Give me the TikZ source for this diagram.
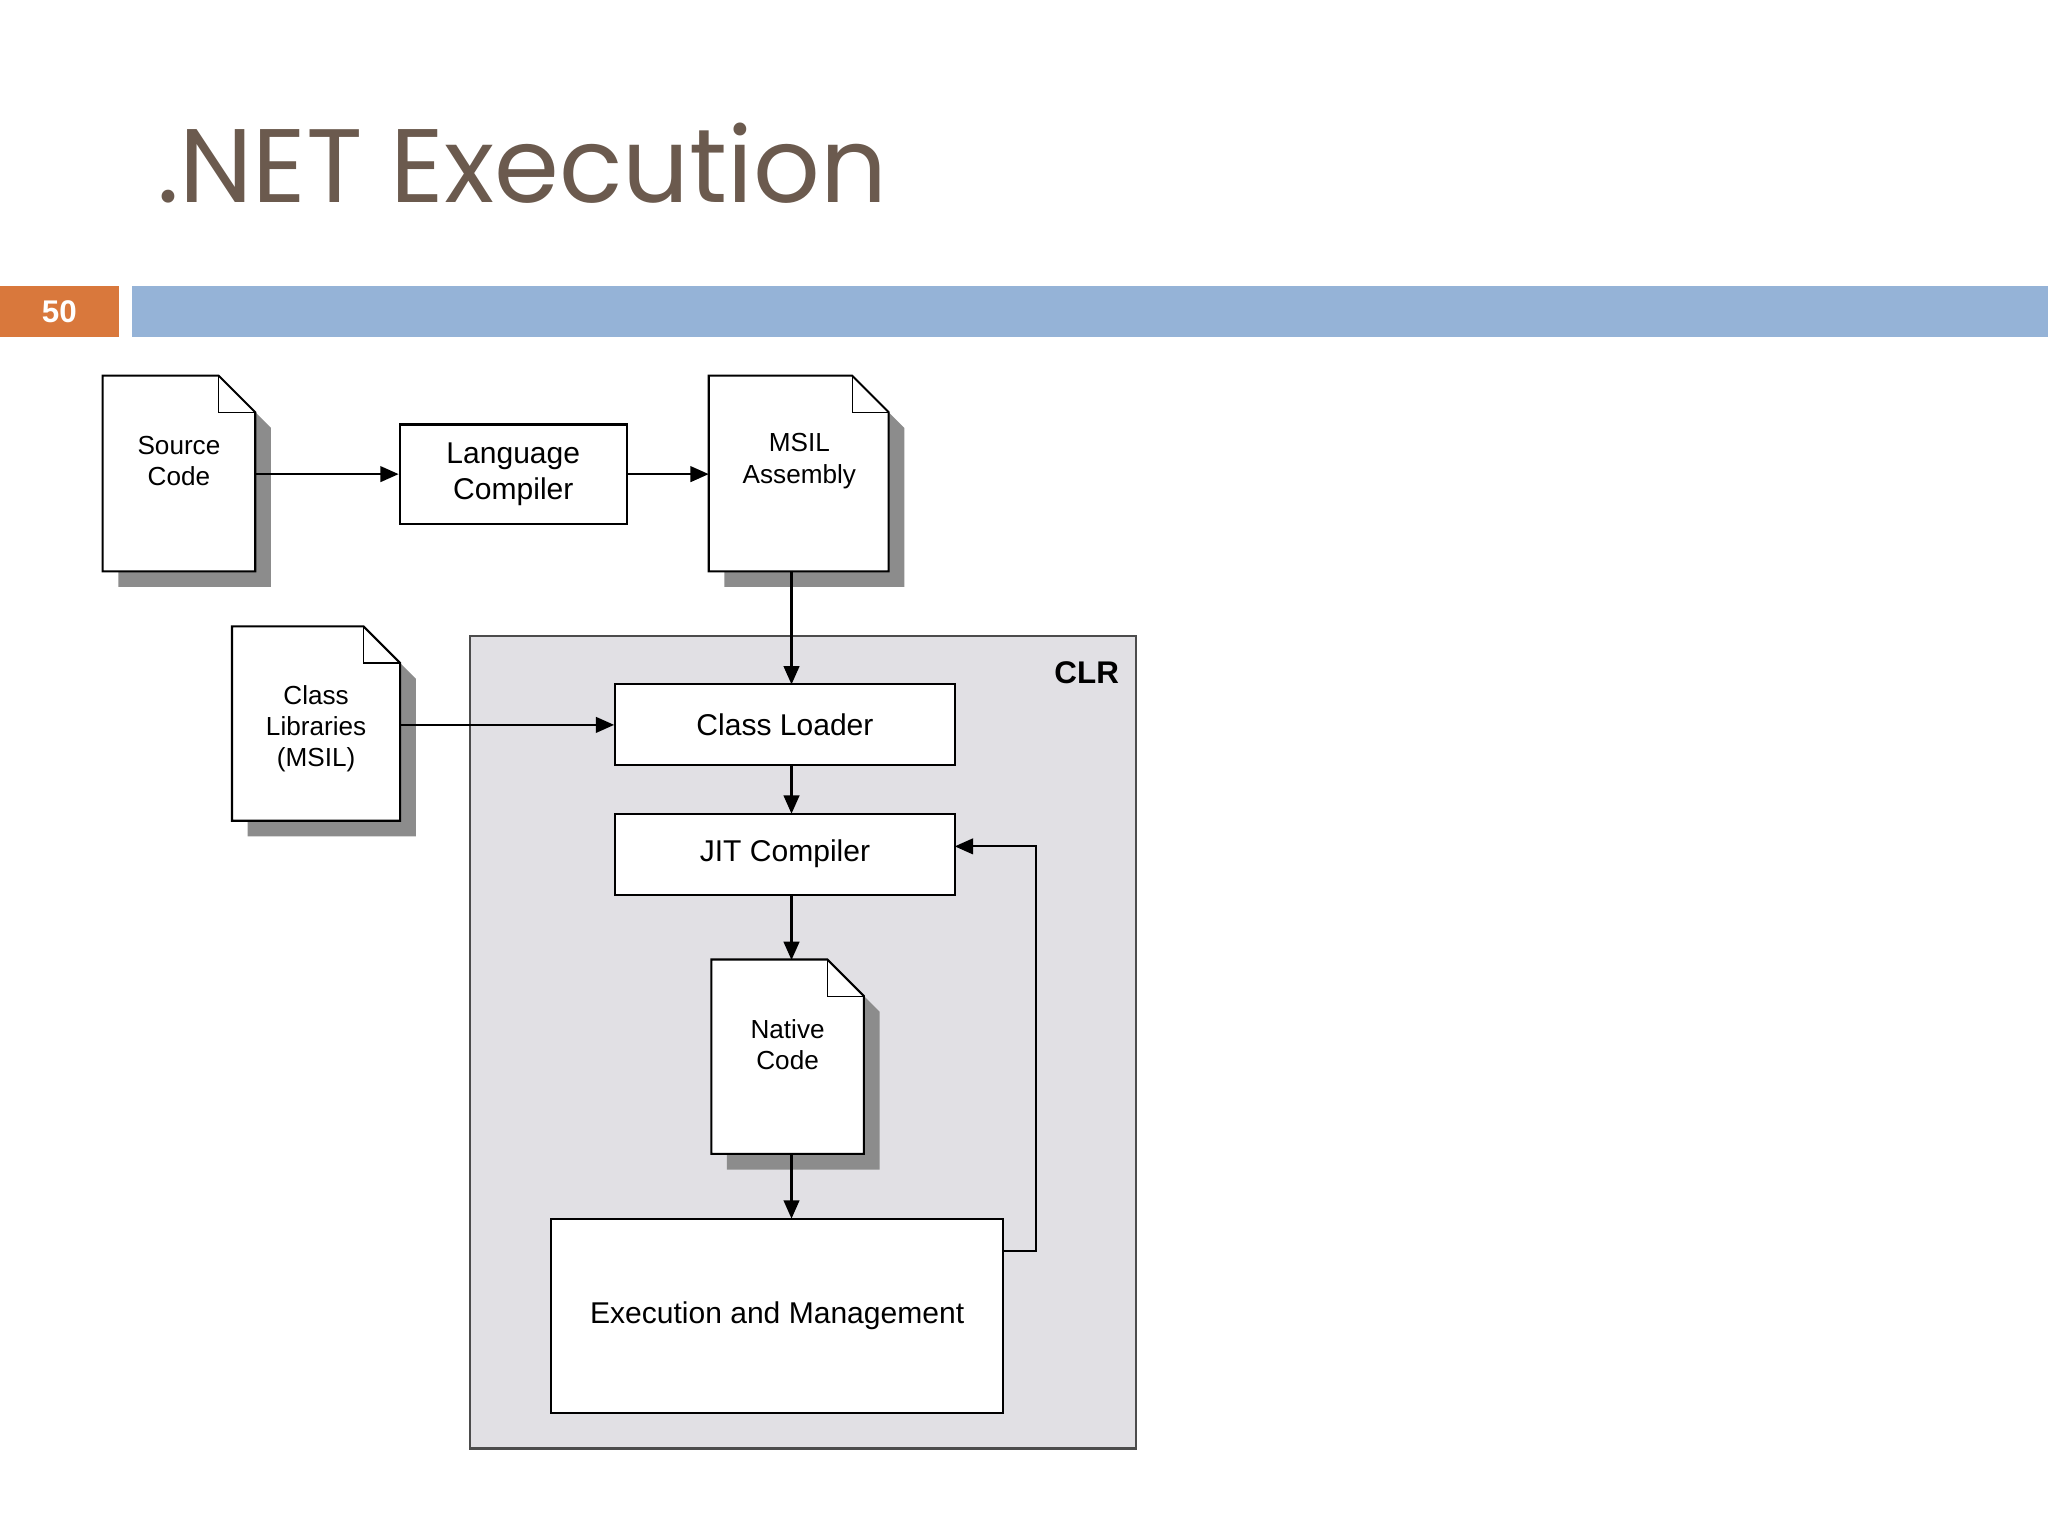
\documentclass[tikz,border=0pt]{standalone}
\usepackage{fontspec}
\setmainfont{Liberation Sans}
\newfontfamily\titlefont{Poppins}
\usetikzlibrary{calc,arrows.meta}
\definecolor{titlebrown}{HTML}{6B5A4E}
\definecolor{slideorange}{HTML}{D9783C}
\definecolor{slideblue}{HTML}{95B3D7}
\definecolor{clrgray}{HTML}{E1E0E4}
\definecolor{shadowgray}{HTML}{8C8C8C}
\tikzset{
  box/.style={draw,thick,fill=white,inner sep=0,font=\fontsize{11.5}{14}\selectfont,align=center},
  arr/.style={-{Triangle[length=7pt,width=6pt]},thick},
  doctext/.style={font=\fontsize{10}{12}\selectfont,align=center},
}
\newcommand\mydoc[5]{%
  \node[inner sep=0,minimum width=#4*0.5pt,minimum height=#5*0.5pt] (#1) at (#2,#3) {};
  \fill[shadowgray] ($(#1.north west)+(12,12)$) -- ($(#1.north east)+(-16,12)$) -- ($(#1.north east)+(12,40)$) -- ($(#1.south east)+(12,12)$) -- ($(#1.south west)+(12,12)$) -- cycle;
  \filldraw[fill=white,thick] (#1.north west) -- ($(#1.north east)+(-28,0)$) -- ($(#1.north east)+(0,28)$) -- (#1.south east) -- (#1.south west) -- cycle;
  \draw[thin] ($(#1.north east)+(-28,0)$) -- ($(#1.north east)+(-28,28)$) -- ($(#1.north east)+(0,28)$);
}
\begin{document}
\begin{tikzpicture}[x=0.5pt,y=-0.5pt]
\useasboundingbox (0,0) rectangle (1568,1176);
\node[anchor=base west,inner sep=0,text=titlebrown,font=\titlefont\fontsize{40}{46}\selectfont] (title) at (120,155) {.NET Execution};
\fill[slideorange] (0,219) rectangle (91,258);
\node[text=white,font=\bfseries\fontsize{12}{14}\selectfont] (num) at (45.5,238.5) {50};
\fill[slideblue] (101,219) rectangle (1568,258);
% CLR
\filldraw[fill=clrgray,draw=black!70,thick] (360,487) rectangle (870,1109);
\node[font=\bfseries\fontsize{12}{14}\selectfont] (clr) at (832,515) {CLR};
% docs
\mydoc{src}{137}{362.5}{116}{149}
\node[doctext] (srct) at (137,353) {Source\\Code};
\mydoc{msil}{611.5}{362.5}{137}{149}
\node[doctext] (msilt) at (612,353) {MSIL\\Assembly};
\mydoc{lib}{242}{554}{128}{148}
\node[doctext] (libt) at (242,558) {Class\\Libraries\\(MSIL)};
\mydoc{nat}{603}{809}{116}{148}
\node[doctext] (natt) at (603,800) {Native\\Code};
% boxes
\node[box,minimum width=87pt,minimum height=38pt] (lc) at (393,363) {Language\\Compiler};
\node[box,minimum width=130pt,minimum height=31pt] (cl) at (601,555) {Class Loader};
\node[box,minimum width=130pt,minimum height=31pt] (jit) at (601,654) {JIT Compiler};
\node[box,minimum width=173pt,minimum height=74.5pt] (ex) at (595,1007.5) {Execution and Management};
% arrows
\draw[arr] (src.east|-lc.west) -- (lc.west);
\draw[arr] (lc.east) -- (msil.west|-lc.east);
\draw[arr] (606,437) -- (606,524);
\draw[arr] (306,555) -- (cl.west);
\draw[arr] (606,586) -- (606,623);
\draw[arr] (606,685) -- (606,735);
\draw[arr] (606,883) -- (606,933);
\draw[arr] (768,958) -- (793,958) -- (793,648) -- (731,648);
\end{tikzpicture}
\end{document}
